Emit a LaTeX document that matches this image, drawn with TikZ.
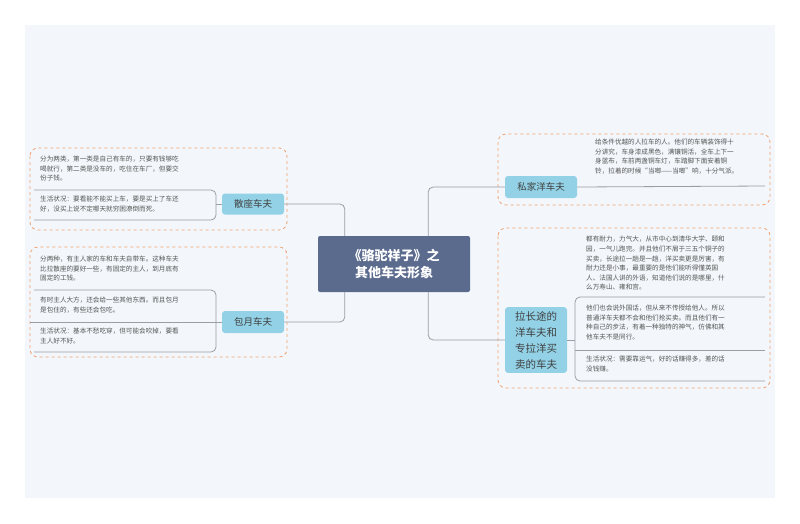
\documentclass[tikz,border=0pt]{standalone}
\usepackage{fontspec}
\setmainfont{Noto Sans CJK SC}
\usetikzlibrary{positioning,calc}
\definecolor{bgblue}{HTML}{F3F7FB}
\definecolor{centre}{HTML}{5B6B8E}
\definecolor{topicblue}{HTML}{92D1E6}
\definecolor{dashorange}{HTML}{F0A070}
\definecolor{linegray}{HTML}{9A9EA6}
\definecolor{txtgray}{HTML}{555555}

\begin{document}
\begin{tikzpicture}[x=1pt,y=-1pt,
    centrebox/.style={fill=centre, rounded corners=2pt, text=white, font=\fontsize{13}{17}\selectfont\bfseries,
        align=center, minimum width=152pt, minimum height=56pt},
    topic/.style={fill=topicblue, rounded corners=3pt, text=black!75, font=\fontsize{9.5}{13}\selectfont,
        align=center, inner sep=4pt},
    leaf/.style={anchor=north west, align=left, text=txtgray, font=\fontsize{6.6}{9.6}\selectfont, inner sep=0pt},
    group/.style={draw=dashorange, dashed, thick, rounded corners=8pt},
    branch/.style={draw=linegray, thick, rounded corners=5pt}
]
\useasboundingbox (0,0) rectangle (800,523);
\fill[white] (0,0) rectangle (800,523);
\fill[bgblue] (25,25) rectangle (775,498);

% groups
\draw[group] (30,148) rectangle (287,230);
\draw[group] (30,247) rectangle (287,357);
\draw[group] (498,134) rectangle (770,205);
\draw[group] (498,228) rectangle (770,388);

% centre
\node[centrebox] (c) at (394,264) {《骆驼祥子》之\\其他车夫形象};

% topics
\node[topic, minimum width=62pt, minimum height=21pt] (sz) at (253,204) {散座车夫};
\node[topic, minimum width=62pt, minimum height=22pt] (by) at (253,322) {包月车夫};
\node[topic, minimum width=72pt, minimum height=22pt] (sj) at (541,187) {私家洋车夫};
\node[topic, minimum width=62pt, minimum height=65pt, font=\fontsize{10.5}{16}\selectfont] (lt) at (536,340) {拉长途的\\洋车夫和\\专拉洋买\\卖的车夫};

% centre connectors
\draw[branch] (sz.east) -| ($(c.north west)+(27,0)$);
\draw[branch] (by.east) -| ($(c.south west)+(27,0)$);
\draw[branch] ($(c.north east)+(-42,0)$) |- (sj.west);
\draw[branch] ($(c.south east)+(-42,0)$) |- (lt.west);

% 散座车夫
\node[leaf] (sz1) at (40,156) {分为两类，第一类是自己有车的，只要有钱够吃\\喝就行，第二类是没车的，吃住在车厂，但要交\\份子钱。};
\node[leaf] (sz2) at (40,196) {生活状况：要看能不能买上车，要是买上了车还\\好，没买上说不定哪天就穷困潦倒而死。};
\draw[branch] (34,190) -- (216,190) -- (216,220) -- (34,220);
\draw[branch] (216,204) -- (sz.west);

% 包月车夫
\node[leaf] (by1) at (40,256) {分两种，有主人家的车和车夫自带车。这种车夫\\比拉散座的要好一些，有固定的主人，到月底有\\固定的工钱。};
\node[leaf] (by2) at (40,297) {有时主人大方，还会给一些其他东西。而且包月\\是包住的，有些还会包吃。};
\node[leaf] (by3) at (40,328) {生活状况：基本不愁吃穿，但可能会吹掉，要看\\主人好不好。};
\draw[branch] (34,290) -- (216,290) -- (216,352) -- (34,352);
\draw[branch] (30,322) -- (by.west);

% 私家洋车夫
\node[leaf] (sj1) at (595,139) {给条件优越的人拉车的人。他们的车辆装饰得十\\分讲究，车身漆成黑色，满镶铜活，全车上下一\\身蓝布，车前两盏铜车灯，车踏脚下面安着铜\\铃，拉着的时候“当啷——当啷”响，十分气派。};
\draw[branch] (sj.east) -- (765,186);

% 拉长途
\node[leaf] (lt1) at (586,236) {都有耐力，力气大，从市中心到清华大学、颐和\\园，一气儿跑完。并且他们不屑于三五个铜子的\\买卖，长途拉一趟是一趟，洋买卖更是厉害，有\\耐力还是小事，最重要的是他们能听得懂英国\\人、法国人讲的外语，知道他们说的是哪里，什\\么万寿山、雍和宫。};
\node[leaf] (lt2) at (586,305) {他们也会说外国话，但从来不传授给他人。所以\\普通洋车夫都不会和他们抢买卖。而且他们有一\\种自己的步法，有着一种独特的神气，仿佛和其\\他车夫不是同行。};
\node[leaf] (lt3) at (586,356) {生活状况：需要靠运气，好的话赚得多，差的话\\没钱赚。};
\draw[branch] (765,297) -- (575,297) -- (575,381) -- (765,381);
\draw[branch] (575,350) -- (765,350);
\draw[branch] (lt.east) -- (575,340);
\end{tikzpicture}
\end{document}
